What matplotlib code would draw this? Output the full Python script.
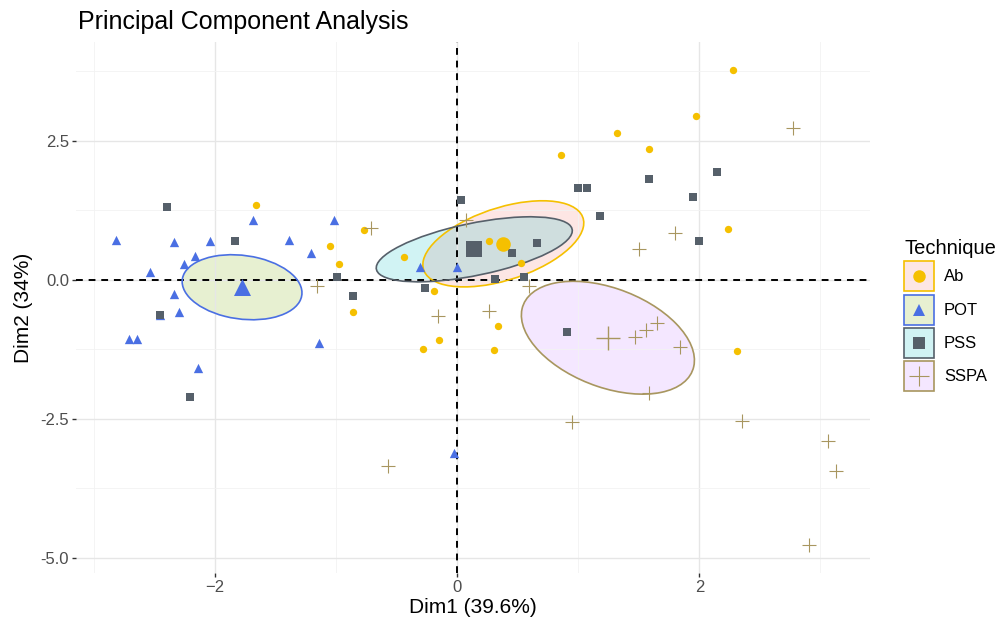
import numpy as np
import matplotlib
matplotlib.use("Agg")
import matplotlib.pyplot as plt
from matplotlib.colors import to_rgba
from matplotlib.patches import Ellipse, Rectangle
from matplotlib.lines import Line2D
from matplotlib.legend_handler import HandlerTuple, HandlerLine2D

plt.rcParams['font.family'] = ['Liberation Sans', 'DejaVu Sans']

groups = ['Ab', 'POT', 'PSS', 'SSPA']

ab_x = [-1.66, -1.05, -0.98, -0.77, -0.86, -0.44, -0.19, -0.15, -0.28, 0.26,
        0.34, 0.30, 0.53, 2.28, 1.97, 1.32, 1.58, 0.86, 2.24, 2.31]
ab_y = [1.35, 0.61, 0.29, 0.90, -0.58, 0.41, -0.20, -1.08, -1.24, 0.70,
        -0.83, -1.26, 0.31, 3.78, 2.95, 2.64, 2.36, 2.25, 0.92, -1.28]

pot_x = [-2.82, -2.34, -2.04, -1.69, -1.39, -1.21, -1.02, -2.17, -2.26, -2.54,
         -2.34, -2.30, -2.46, -2.71, -2.65, -2.14, -1.14, -0.31, 0.00, -0.03]
pot_y = [0.72, 0.68, 0.70, 1.08, 0.72, 0.49, 1.08, 0.43, 0.29, 0.14,
         -0.25, -0.58, -0.63, -1.06, -1.06, -1.58, -1.13, 0.23, 0.23, -3.11]

pss_x = [-2.40, -1.84, -0.99, -0.86, -0.27, -2.46, -2.21, 0.03, 0.45, 0.66,
         0.31, 0.55, 1.00, 1.07, 1.18, 0.91, 1.58, 1.95, 2.15, 2.00]
pss_y = [1.31, 0.70, 0.05, -0.29, -0.14, -0.63, -2.10, 1.44, 0.49, 0.67,
         0.02, 0.05, 1.65, 1.65, 1.15, -0.94, 1.82, 1.49, 1.94, 0.70]

sspa_x = [-1.16, -0.16, -0.71, 0.26, 0.59, 0.07, 2.77, 1.80, 1.50, 1.47,
          1.56, 1.65, 1.84, 1.58, 0.95, 2.35, 3.06, 3.13, 2.91, -0.57]
sspa_y = [-0.11, -0.65, 0.94, -0.56, -0.11, 1.08, 2.73, 0.85, 0.56, -1.03,
          -0.90, -0.78, -1.21, -2.03, -2.55, -2.54, -2.90, -3.44, -4.77, -3.35]

# ellipse spread (variance/covariance, data units)
ell_sxx = [0.442, 0.245, 0.656, 0.511]
ell_syy = [0.600, 0.342, 0.342, 1.030]
ell_sxy = [0.250, -0.050, 0.271, -0.290]

xs = [ab_x, pot_x, pss_x, sspa_x]
ys = [ab_y, pot_y, pss_y, sspa_y]

line_col = ['#F5C000', '#4A6FE3', '#56606A', '#A8965F']
fill_col = ['#F8766D', '#7CAE00', '#00BFC4', '#C77CFF']
marker = ['o', '^', 's', '+']
msize = [28, 45, 26, 90]
csize = [110, 150, 120, 320]


class CenteredMarker(HandlerLine2D):
    # put the legend marker in the middle of the key box
    def create_artists(self, legend, orig_handle, xdescent, ydescent,
                       width, height, fontsize, trans):
        arts = super().create_artists(legend, orig_handle, xdescent, ydescent,
                                      width, height, fontsize, trans)
        for a in arts:
            a.set_ydata([height / 2 - ydescent] * len(a.get_ydata()))
        return arts


fig = plt.figure(figsize=(10.05, 6.23), dpi=100)
ax = fig.add_axes([76 / 1005, 50 / 623, (870 - 76) / 1005, (581 - 50) / 623])

ax.set_xlim(-3.15, 3.41)
ax.set_ylim(-5.27, 4.28)

ax.set_xticks([-2, 0, 2])
ax.set_xticks([-3, -1, 1, 3], minor=True)
ax.set_yticks([-5.0, -2.5, 0.0, 2.5])
ax.set_yticks([-3.75, -1.25, 1.25, 3.75], minor=True)
ax.set_yticklabels(['-5.0', '-2.5', '0.0', '2.5'])
ax.grid(which='major', color='#E6E6E6', lw=1.0, zorder=0)
ax.grid(which='minor', color='#F2F2F2', lw=0.6, zorder=0)
for s in ax.spines.values():
    s.set_visible(False)
ax.tick_params(which='major', length=3, width=1, color='#333333',
               labelsize=12, labelcolor='#4D4D4D', pad=2)
ax.tick_params(which='minor', length=0)

ax.axhline(0, color='black', lw=1.4, ls=(0, (3.5, 3)), zorder=2)
ax.axvline(0, color='black', lw=1.4, ls=(0, (3.5, 3)), zorder=2)

handles = []
for i, g in enumerate(groups):
    gx = np.array(xs[i])
    gy = np.array(ys[i])
    cx, cy = gx.mean(), gy.mean()
    cov = np.array([[ell_sxx[i], ell_sxy[i]], [ell_sxy[i], ell_syy[i]]])
    vals, vecs = np.linalg.eigh(cov)
    ang = np.degrees(np.arctan2(vecs[1, 1], vecs[0, 1]))
    w, h = 2 * np.sqrt(vals[1]), 2 * np.sqrt(vals[0])
    ax.add_patch(Ellipse((cx, cy), w, h, angle=ang, facecolor=fill_col[i],
                         alpha=0.18, edgecolor='none', zorder=1))
    ax.add_patch(Ellipse((cx, cy), w, h, angle=ang, facecolor='none',
                         edgecolor=line_col[i], lw=1.2, zorder=3))
    lw = 0.8 if marker[i] == '+' else 0
    ax.scatter(gx, gy, s=msize[i], marker=marker[i], color=line_col[i],
               linewidths=lw, zorder=4)
    ax.scatter([cx], [cy], s=csize[i], marker=marker[i], color=line_col[i],
               linewidths=1.0 if marker[i] == '+' else 0, zorder=5)
    box = Rectangle((0, 0), 1, 1, facecolor=to_rgba(fill_col[i], 0.18),
                    edgecolor=line_col[i], lw=1.2)
    mk = Line2D([], [], ls='none', marker=marker[i], color=line_col[i],
                markersize=9 if marker[i] != '+' else 14,
                markeredgewidth=0.8 if marker[i] == '+' else 0)
    handles.append((box, mk))

leg = fig.legend(handles, groups, title='Technique', loc='upper left',
                 bbox_to_anchor=(889 / 1005, 1 - 224 / 623), frameon=False,
                 fontsize=12, title_fontsize=14.5, handlelength=1.8,
                 handleheight=2.39, labelspacing=0.2, handletextpad=0.6,
                 handler_map={tuple: HandlerTuple(ndivide=1, pad=0),
                              Line2D: CenteredMarker()})
leg._legend_box.align = 'left'

ax.set_xlabel('Dim1 (39.6%)', fontsize=15, labelpad=2)
ax.set_ylabel('Dim2 (34%)', fontsize=15, labelpad=5)
fig.text(78 / 1005, 1 - 22 / 623, 'Principal Component Analysis',
         fontsize=18, va='center', ha='left')

fig.savefig('out.png', dpi=100)
